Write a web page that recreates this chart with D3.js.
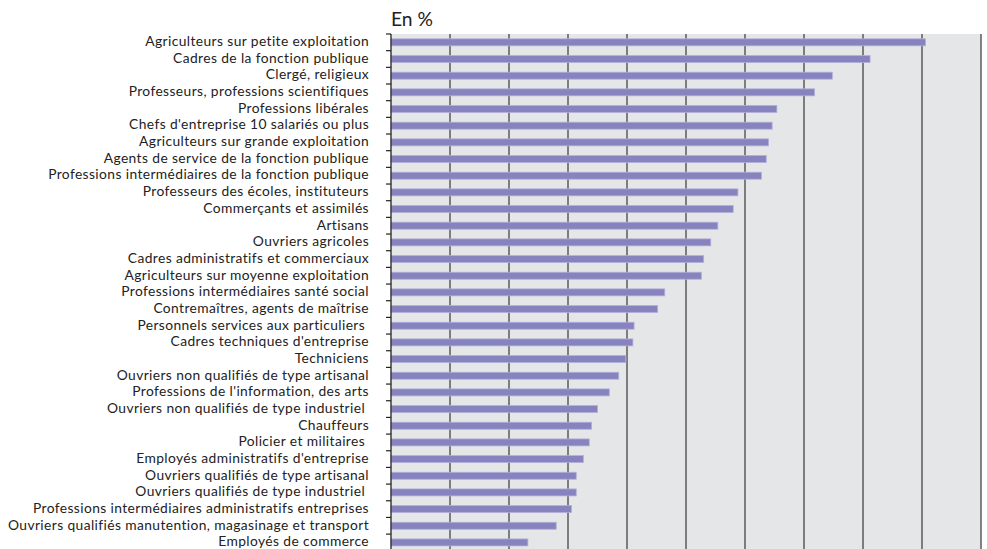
<!DOCTYPE html>
<html>
<head>
<meta charset="utf-8">
<script src="https://cdn.jsdelivr.net/npm/d3@7"></script>
<style>
  html, body { margin: 0; padding: 0; background: #fff; }
  svg { display: block; }
  text { font-family: Lato, "Open Sans", sans-serif; fill: #222; }
</style>
</head>
<body>
<svg id="chart" width="987" height="549"></svg>
<script>
const categories = [
  "Agriculteurs sur petite exploitation",
  "Cadres de la fonction publique",
  "Clergé, religieux",
  "Professeurs, professions scientifiques",
  "Professions libérales",
  "Chefs d'entreprise 10 salariés ou plus",
  "Agriculteurs sur grande exploitation",
  "Agents de service de la fonction publique",
  "Professions intermédiaires de la fonction publique",
  "Professeurs des écoles, instituteurs",
  "Commerçants et assimilés",
  "Artisans",
  "Ouvriers agricoles",
  "Cadres administratifs et commerciaux",
  "Agriculteurs sur moyenne exploitation",
  "Professions intermédiaires santé social",
  "Contremaîtres, agents de maîtrise",
  "Personnels services aux particuliers ",
  "Cadres techniques d'entreprise",
  "Techniciens",
  "Ouvriers non qualifiés de type artisanal",
  "Professions de l'information, des arts",
  "Ouvriers non qualifiés de type industriel ",
  "Chauffeurs",
  "Policier et militaires ",
  "Employés administratifs d'entreprise",
  "Ouvriers qualifiés de type artisanal",
  "Ouvriers qualifiés de type industriel ",
  "Professions intermédiaires administratifs entreprises",
  "Ouvriers qualifiés manutention, magasinage et transport",
  "Employés de commerce"
];
const values = [
  45.3, 40.6, 37.4, 35.9, 32.7, 32.3, 32.0, 31.8, 31.4, 29.4,
  29.0, 27.7, 27.1, 26.5, 26.3, 23.2, 22.6, 20.6, 20.5, 19.9,
  19.3, 18.5, 17.5, 17.0, 16.8, 16.3, 15.7, 15.7, 15.3, 14.0, 11.6
];
const xTicks = [0, 5, 10, 15, 20, 25, 30, 35, 40, 45, 50];
const unitLabel = "En %";

const svg = d3.select("#chart");
const pLeft = 391, pRight = 981, pTop = 34, step = 16.67;
const pBottom = pTop + step * categories.length;

const x = d3.scaleLinear().domain([0, 50]).range([pLeft, pRight]);
const y = d3.scaleBand().domain(categories).range([pTop, pBottom])
  .paddingInner(0.58).paddingOuter(0.29);

// plot background
svg.append("rect")
  .attr("x", pLeft).attr("y", pTop)
  .attr("width", pRight - pLeft).attr("height", pBottom - pTop)
  .attr("fill", "#e5e6e8");

// vertical gridlines
svg.append("g")
  .selectAll("line")
  .data(xTicks.slice(1))
  .join("line")
  .attr("x1", d => x(d)).attr("x2", d => x(d))
  .attr("y1", pTop).attr("y2", pBottom)
  .attr("stroke", "#505050")
  .attr("stroke-width", 1.4);

// bars
svg.append("g")
  .selectAll("rect")
  .data(categories.map((c, i) => ({ c, v: values[i] })))
  .join("rect")
  .attr("x", x(0))
  .attr("y", d => y(d.c))
  .attr("width", d => x(d.v) - x(0))
  .attr("height", y.bandwidth())
  .attr("fill", "#8783bf")
  .attr("stroke", "#b3b0da")
  .attr("stroke-width", 0.8);

// y axis line and ticks at band boundaries
svg.append("line")
  .attr("x1", pLeft).attr("x2", pLeft)
  .attr("y1", pTop).attr("y2", pBottom)
  .attr("stroke", "#222").attr("stroke-width", 1.3);

const bounds = d3.range(categories.length + 1).map(i => pTop + i * step);
svg.append("g")
  .selectAll("line")
  .data(bounds)
  .join("line")
  .attr("x1", pLeft - 5).attr("x2", pLeft)
  .attr("y1", d => d).attr("y2", d => d)
  .attr("stroke", "#222").attr("stroke-width", 1.2);

// category labels
const labelFs = 13.8;
const labels = svg.append("g")
  .selectAll("text")
  .data(categories)
  .join("text")
  .attr("x", 369)
  .attr("y", d => y(d) + y.bandwidth() / 2 + 3.8)
  .attr("text-anchor", "end")
  .style("white-space", "pre")
  .attr("font-size", labelFs)
  .text(d => d);

// widen letter spacing so the longest label spans like the reference (~361px)
let maxW = 0, maxLen = 1;
labels.each(function(d) {
  const w = this.getComputedTextLength();
  if (w > maxW) { maxW = w; maxLen = d.length; }
});
const ls = Math.max(0, (361 - maxW) / maxLen);
labels.style("letter-spacing", ls + "px");

// unit label
const unit = svg.append("text")
  .attr("x", pLeft).attr("y", 26)
  .attr("font-size", 17)
  .text(unitLabel);
const uw = unit.node().getComputedTextLength();
unit.attr("font-size", 17 * 42 / uw);
</script>
</body>
</html>
